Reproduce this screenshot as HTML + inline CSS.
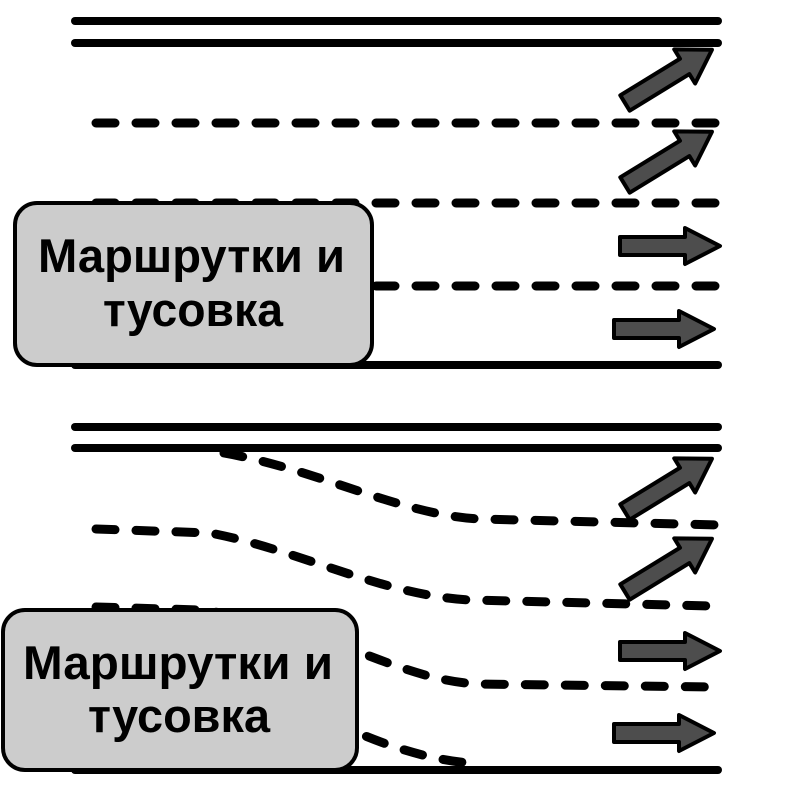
<!DOCTYPE html>
<html><head><meta charset="utf-8"><style>html,body{margin:0;padding:0;background:#fff}svg{display:block}</style></head>
<body>
<svg width="800" height="800" viewBox="0 0 800 800" xmlns="http://www.w3.org/2000/svg">
<defs>
<path id="ar" d="M0,-9 L70,-9 L70,-20 L102,0 L70,20 L70,9 L0,9 Z" fill="#4d4d4d" stroke="#000" stroke-width="4" stroke-linejoin="round"/>
<path id="ah" d="M0,-9 L65,-9 L65,-18 L100,0 L65,18 L65,9 L0,9 Z" fill="#4d4d4d" stroke="#000" stroke-width="4" stroke-linejoin="round"/>
</defs>
<g stroke="#000" stroke-width="8" stroke-linecap="round" fill="none">
<line x1="75" y1="21" x2="718" y2="21"/>
<line x1="75" y1="43" x2="718" y2="43"/>
<line x1="75" y1="365" x2="718" y2="365"/>
<g stroke-dasharray="19 21" stroke-width="9">
<line x1="96" y1="123" x2="718" y2="123"/>
<line x1="96" y1="203" x2="718" y2="203"/>
<line x1="96" y1="286" x2="718" y2="286"/>
</g>
<line x1="75" y1="427" x2="718" y2="427"/>
<line x1="75" y1="448" x2="718" y2="448"/>
<line x1="75" y1="770" x2="718" y2="770"/>
<g stroke-dasharray="19 21" stroke-width="9">
<path d="M224,453 C320,470 400,515 480,519 L718,525"/>
<path d="M96,529 L210,533 C300,550 380,595 470,600 L710,606"/>
<path d="M96,607 L200,610 C280,620 340,645 380,660 C420,675 450,683 480,684 L710,687"/>
<path d="M330,720 C380,745 430,760 470,763"/>
</g>
</g>
<use href="#ar" transform="translate(625,103) rotate(-31.5)"/>
<use href="#ar" transform="translate(625,185) rotate(-31.5)"/>
<use href="#ah" transform="translate(620,246)"/>
<use href="#ah" transform="translate(614,329)"/>
<use href="#ar" transform="translate(625,512) rotate(-31.5)"/>
<use href="#ar" transform="translate(625,592) rotate(-31.5)"/>
<use href="#ah" transform="translate(620,651)"/>
<use href="#ah" transform="translate(614,733)"/>
<rect x="15" y="203" width="357" height="162" rx="22" fill="#cccccc" stroke="#000" stroke-width="4"/>
<rect x="3" y="610" width="354" height="160" rx="22" fill="#cccccc" stroke="#000" stroke-width="4"/>
<g font-family="Liberation Sans, Arial, sans-serif" font-weight="bold" font-size="47" fill="#000">
<text x="38" y="272" textLength="307" lengthAdjust="spacingAndGlyphs">Маршрутки и</text>
<text x="103" y="326" textLength="180" lengthAdjust="spacingAndGlyphs">тусовка</text>
<text x="23" y="679" textLength="310" lengthAdjust="spacingAndGlyphs">Маршрутки и</text>
<text x="88" y="732" textLength="182" lengthAdjust="spacingAndGlyphs">тусовка</text>
</g>
</svg>
</body></html>
